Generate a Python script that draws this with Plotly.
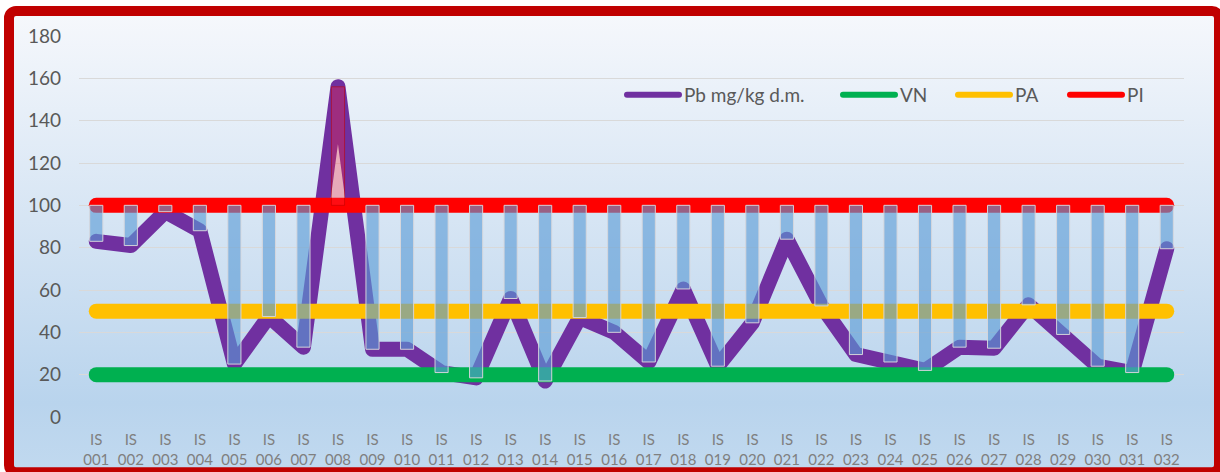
import base64
import plotly.graph_objects as go

# ---------------- data ----------------
categories = ["IS 001", "IS 002", "IS 003", "IS 004", "IS 005", "IS 006", "IS 007", "IS 008",
              "IS 009", "IS 010", "IS 011", "IS 012", "IS 013", "IS 014", "IS 015", "IS 016",
              "IS 017", "IS 018", "IS 019", "IS 020", "IS 021", "IS 022", "IS 023", "IS 024",
              "IS 025", "IS 026", "IS 027", "IS 028", "IS 029", "IS 030", "IS 031", "IS 032"]
pb_values = [83, 81, 97, 88, 25, 47.5, 33, 156, 32, 32, 21, 18.5, 56, 17, 47, 40,
             26, 60.5, 24, 44.5, 84, 52.5, 29.5, 26, 22, 33, 32.5, 53, 39, 24, 21, 79.5]
vn_limit = 20
pa_limit = 50
pi_limit = 100
y_ticks = [0, 20, 40, 60, 80, 100, 120, 140, 160, 180]
series_names = ["Pb mg/kg d.m.", "VN", "PA", "PI"]

# ---------------- style ----------------
W, H = 1220, 472
ML, MR, MT, MB = 79, 36, 36, 55
PW, PH = W - ML - MR, H - MT - MB
C_PB, C_VN, C_PA, C_PI = "#7030A0", "#00B050", "#FFC000", "#FF0000"
FONT = "Lato"
LW = 15

vn_series = [vn_limit] * len(categories)
pa_series = [pa_limit] * len(categories)
pi_series = [pi_limit] * len(categories)

# up/down bars between PI line and Pb line
bar_base = [min(v, pi_limit) for v in pb_values]
bar_len = [abs(v - pi_limit) for v in pb_values]
bar_fill = ["rgba(255,40,60,0.32)" if v > pi_limit else "rgba(91,155,213,0.62)" for v in pb_values]
bar_edge = ["rgba(192,0,0,0.55)" if v > pi_limit else "rgba(215,215,220,0.95)" for v in pb_values]

fig = go.Figure()
for name, ys, col in [(series_names[0], pb_values, C_PB), (series_names[1], vn_series, C_VN),
                      (series_names[2], pa_series, C_PA), (series_names[3], pi_series, C_PI)]:
    fig.add_trace(go.Scatter(x=categories, y=ys, mode="lines", name=name,
                             line=dict(color=col, width=LW), showlegend=False,
                             hoverinfo="skip"))

fig.add_trace(go.Bar(x=categories, y=bar_len, base=bar_base, yaxis="y2", width=0.38,
                     marker=dict(color=bar_fill, line=dict(color=bar_edge, width=1)),
                     showlegend=False, hoverinfo="skip"))

# legend entries (one legend box per entry so spacing can follow the reference)
leg_x = [622, 838, 953, 1065]
leg_keys = ["legend", "legend2", "legend3", "legend4"]
for name, col, key in zip(series_names, [C_PB, C_VN, C_PA, C_PI], leg_keys):
    fig.add_trace(go.Scatter(x=[None], y=[None], mode="lines", name=name,
                             line=dict(color=col, width=6), legend=key, showlegend=True))

leg_y = (H - MB - 95) / PH
legend_common = dict(orientation="h", yanchor="middle", xanchor="left", y=leg_y,
                     bgcolor="rgba(0,0,0,0)", borderwidth=0, itemwidth=52,
                     font=dict(family=FONT, size=19, color="#595959"))
layout_legends = {}
for key, px in zip(leg_keys, leg_x):
    layout_legends[key] = dict(x=(px - ML) / PW, **legend_common)

# background: gradient panel with red rounded frame
svg = (
    f'<svg xmlns="http://www.w3.org/2000/svg" width="{W}" height="{H}" viewBox="0 0 {W} {H}">'
    '<defs><linearGradient id="g" x1="0" y1="0" x2="0" y2="1">'
    '<stop offset="0" stop-color="#F6F8FC"/>'
    '<stop offset="0.5" stop-color="#D3E3F3"/>'
    '<stop offset="0.85" stop-color="#B9D4ED"/>'
    '<stop offset="1" stop-color="#C1D9EF"/>'
    '</linearGradient></defs>'
    f'<rect x="0" y="0" width="{W}" height="{H}" fill="#FFFFFF"/>'
    '<rect x="9" y="11" width="1210" height="461.3" rx="7" ry="7" fill="url(#g)" '
    'stroke="#C00000" stroke-width="10"/>'
    '</svg>'
)
src = "data:image/svg+xml;base64," + base64.b64encode(svg.encode()).decode()

fig.update_layout(
    width=W, height=H,
    margin=dict(l=ML, r=MR, t=MT, b=MB, pad=0, autoexpand=False),
    paper_bgcolor="white", plot_bgcolor="rgba(0,0,0,0)",
    barmode="overlay",
    images=[dict(source=src, xref="paper", yref="paper", x=-ML / PW, y=1 + MT / PH,
                 sizex=W / PW, sizey=H / PH, xanchor="left", yanchor="top",
                 sizing="stretch", layer="below")],
    xaxis=dict(type="category", tickvals=categories,
               ticktext=[c.replace(" ", "<br>") for c in categories],
               showgrid=False, zeroline=False, showline=False, ticks="",
               ticklabelstandoff=12, automargin=False,
               tickfont=dict(family=FONT, size=15, color="#808080")),
    yaxis=dict(range=[0, 180], tickvals=y_ticks, showgrid=True, gridcolor="#D9D9D9",
               gridwidth=1, zeroline=False, showline=False, ticks="",
               ticklabelstandoff=17, automargin=False,
               tickfont=dict(family=FONT, size=19, color="#595959")),
    yaxis2=dict(range=[0, 180], overlaying="y", visible=False, showgrid=False,
                automargin=False),
    **layout_legends,
)

post = """
document.body.style.margin='0';
var gd=document.getElementById('{plot_id}');
gd.querySelectorAll('path.js-line, .legendlines path').forEach(function(p){
  p.style.strokeLinecap='round'; p.style.strokeLinejoin='round';
});
"""
fig.write_html("out.html", config={"displayModeBar": False}, post_script=post)
